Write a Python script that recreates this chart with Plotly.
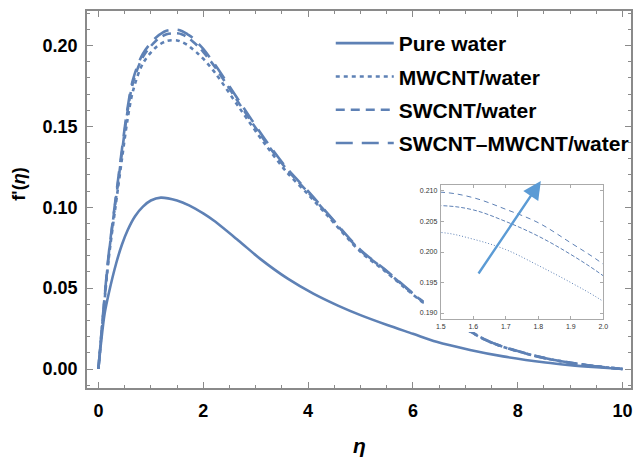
import plotly.graph_objects as go

# ---------------- data ----------------
eta_pure = [0, 0.05, 0.12, 0.2, 0.34, 0.45, 0.56, 0.7, 0.85, 1.0, 1.19, 1.5, 1.73, 2.0, 2.2, 2.67, 3.1, 3.62, 4.1, 4.57,
            5.0, 5.51, 6.0, 6.45, 7.09, 7.72, 8.53, 9.0, 9.5, 10]
f_pure = [0, 0.016, 0.0344, 0.047, 0.0654, 0.077, 0.086, 0.0945, 0.1004, 0.1042, 0.106, 0.1042, 0.1012, 0.0962, 0.0918,
          0.0795, 0.0678, 0.0557, 0.0466, 0.0392, 0.0333, 0.0272, 0.0218, 0.0168, 0.0118, 0.0078, 0.0040, 0.0024, 0.0011, 0]

eta_nf = [0, 0.1, 0.2, 0.3, 0.375, 0.45, 0.55, 0.66, 0.85, 1.1, 1.3, 1.5, 1.6, 1.7, 1.8, 1.9, 2.0,
          2.23, 2.7, 3.18, 3.6, 4.0, 4.38, 5.0, 5.45, 6.2, 6.8, 7.4, 7.72, 8.53, 9.3, 10]
f_mwcnt = [0, 0.036, 0.069, 0.094, 0.112, 0.130, 0.153, 0.172, 0.189, 0.199, 0.2028, 0.2032, 0.2021, 0.2004, 0.1978, 0.1950, 0.1919,
           0.183, 0.161, 0.139, 0.1215, 0.108, 0.0945, 0.0725, 0.061, 0.041, 0.0287, 0.0177, 0.0137, 0.0066, 0.0025, 0]
f_swcnt = [0, 0.037, 0.071, 0.097, 0.115, 0.134, 0.158, 0.177, 0.193, 0.203, 0.2070, 0.2076, 0.2069, 0.2050, 0.2026, 0.1996, 0.1961,
           0.1865, 0.1635, 0.1408, 0.1232, 0.1093, 0.0955, 0.0732, 0.0617, 0.0414, 0.0289, 0.0178, 0.0137, 0.0066, 0.0025, 0]
f_hybrid = [0, 0.038, 0.072, 0.098, 0.117, 0.136, 0.160, 0.179, 0.195, 0.205, 0.2092, 0.2098, 0.2089, 0.2070, 0.2048, 0.2015, 0.1980,
            0.188, 0.165, 0.142, 0.124, 0.110, 0.096, 0.0736, 0.062, 0.0416, 0.029, 0.0179, 0.0138, 0.0066, 0.0025, 0]

names = ["Pure water", "MWCNT/water", "SWCNT/water", "SWCNT\u2013MWCNT/water"]

x_ticks = [0, 2, 4, 6, 8, 10]
y_ticks = [0.00, 0.05, 0.10, 0.15, 0.20]
inset_x_ticks = [1.5, 1.6, 1.7, 1.8, 1.9, 2.0]
inset_y_ticks = [0.190, 0.195, 0.200, 0.205, 0.210]

# ---------------- style ----------------
W, H = 638, 459
ML, MR, MT, MB = 87, 2, 11, 71
PW, PH = W - ML - MR, H - MT - MB
XR = [-0.217, 10.16]
YR = [-0.01175, 0.2214]
IXR = [1.5, 2.0]
IYR = [0.18902, 0.21098]
BLUE = "#5E81B5"
AX = "#8a8a8a"
FONT = "Liberation Sans, Arial, sans-serif"

def px2paper(px, py):
    return (px - ML) / PW, 1 - (py - MT) / PH

def px2data(px, py):
    fx, fy = px2paper(px, py)
    return XR[0] + fx * (XR[1] - XR[0]), YR[0] + fy * (YR[1] - YR[0])

fig = go.Figure()

main_dash = [None, "4px,4px", "9px,6px", "17px,9px"]
series = [(eta_pure, f_pure), (eta_nf, f_mwcnt), (eta_nf, f_swcnt), (eta_nf, f_hybrid)]
for i, (xs, ys) in enumerate(series):
    line = dict(color=BLUE, width=2.6, shape="spline", smoothing=0.9)
    if main_dash[i]:
        line["dash"] = main_dash[i]
    fig.add_trace(go.Scatter(x=xs, y=ys, mode="lines", name=names[i], line=line,
                             legendgroup=f"g{i}", xaxis="x", yaxis="y"))

# white background of the inset (covers the curves behind it)
bx0, by0 = px2data(427, 332)
bx1, by1 = px2data(614, 172)
fig.add_trace(go.Scatter(x=[bx0, bx1, bx1, bx0, bx0], y=[by0, by0, by1, by1, by0],
                         fill="toself", fillcolor="white", mode="lines",
                         line=dict(width=0, color="white"), showlegend=False,
                         hoverinfo="skip", xaxis="x", yaxis="y"))

# inset curves
inset_dash = [None, "1px,2px", "4px,2px", "5px,4px"]
for i in range(1, 4):
    xs, ys = series[i]
    fig.add_trace(go.Scatter(x=xs, y=ys, mode="lines", showlegend=False,
                             line=dict(color=BLUE, width=1, dash=inset_dash[i], shape="spline"),
                             xaxis="x2", yaxis="y2"))

tickfont_main = dict(family=FONT, size=18, color="black", weight="bold")

fig.update_layout(
    width=W, height=H,
    margin=dict(l=ML, r=MR, t=MT, b=MB),
    paper_bgcolor="white", plot_bgcolor="white",
    showlegend=True,
    legend=dict(x=px2paper(333, 0)[0], y=px2paper(0, 23)[1], xanchor="left", yanchor="top",
                font=dict(family=FONT, size=21, color="black", weight="bold"),
                bgcolor="rgba(0,0,0,0)", tracegroupgap=3, itemwidth=58,
                traceorder="grouped"),
    xaxis=dict(range=XR, tickvals=x_ticks, ticks="inside", ticklen=6, tickwidth=1.3, tickcolor=AX,
               showline=True, linecolor=AX, linewidth=1.5, mirror="ticks",
               showgrid=False, zeroline=False, tickfont=tickfont_main, ticklabelstandoff=6,
               minor=dict(dtick=0.5, ticks="inside", ticklen=3.5, tickwidth=1.1, tickcolor=AX),
               domain=[0, 1]),
    yaxis=dict(range=YR, tickvals=y_ticks, tickformat=".2f", ticks="inside", ticklen=6, tickwidth=1.3,
               tickcolor=AX, showline=True, linecolor=AX, linewidth=1.5, mirror="ticks",
               showgrid=False, zeroline=False, tickfont=tickfont_main, ticklabelstandoff=4,
               minor=dict(dtick=0.01, ticks="inside", ticklen=3.5, tickwidth=1.1, tickcolor=AX),
               domain=[0, 1]),
    xaxis2=dict(range=IXR, tickvals=inset_x_ticks, tickformat=".1f", ticks="inside", ticklen=3,
                tickwidth=0.8, tickcolor="#aaa", showline=True, linecolor="#aaa", linewidth=1,
                mirror="ticks", showgrid=False, zeroline=False, anchor="y2",
                tickfont=dict(family=FONT, size=7, color="#333"), ticklabelstandoff=1,
                domain=[px2paper(444, 0)[0], px2paper(608, 0)[0]]),
    yaxis2=dict(range=IYR, tickvals=inset_y_ticks, tickformat=".3f", ticks="inside", ticklen=3,
                tickwidth=0.8, tickcolor="#aaa", showline=True, linecolor="#aaa", linewidth=1,
                mirror="ticks", showgrid=False, zeroline=False, anchor="x2",
                tickfont=dict(family=FONT, size=7, color="#333"), ticklabelstandoff=1,
                domain=[px2paper(0, 319)[1], px2paper(0, 185)[1]]),
)

# axis titles
tx, ty = px2paper(18, 184)
fig.add_annotation(x=tx, y=ty, xref="paper", yref="paper", text="f'(<i>\u03b7</i>)",
                   textangle=-90, showarrow=False, xanchor="center", yanchor="middle",
                   font=dict(family=FONT, size=18, color="black", weight="bold"))
tx, ty = px2paper(362, 446)
fig.add_annotation(x=tx, y=ty, xref="paper", yref="paper", text="<i>\u03b7</i>",
                   showarrow=False, xanchor="center", yanchor="middle",
                   font=dict(family=FONT, size=21, color="black", weight="bold"))

# arrow in the inset
hx, hy = px2paper(545, 181)
fig.add_annotation(x=hx, y=hy, xref="paper", yref="paper", ax=481.7 - 545, ay=275 - 181,
                   axref="pixel", ayref="pixel", text="", showarrow=True,
                   arrowhead=2, arrowsize=1.5, arrowwidth=2.4, arrowcolor="#5B9BD5")

fig.write_html("out.html")
